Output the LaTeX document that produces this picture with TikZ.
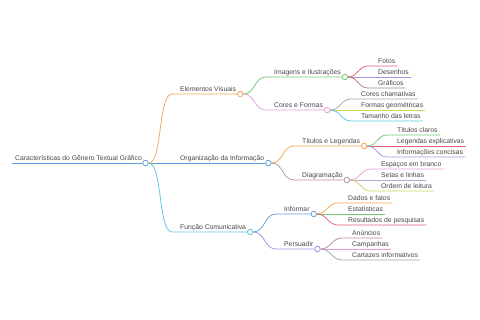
\documentclass[tikz,border=0pt]{standalone}
\usepackage{fontspec}
\setmainfont{Liberation Sans}
\usepackage{tikz}
\usetikzlibrary{positioning}
\definecolor{txt}{RGB}{70,70,70}
\definecolor{cblue}{RGB}{95,160,220}
\definecolor{corange}{RGB}{245,165,85}
\definecolor{ccyan}{RGB}{85,200,220}
\definecolor{cgreen}{RGB}{115,200,115}
\definecolor{cpink}{RGB}{230,160,212}
\definecolor{cmauve}{RGB}{180,145,165}
\definecolor{cpurple}{RGB}{170,145,220}
\definecolor{cred}{RGB}{228,100,120}
\definecolor{cbrown}{RGB}{170,130,120}
\definecolor{cgray}{RGB}{165,165,165}
\definecolor{cyell}{RGB}{208,212,85}
\definecolor{clilac}{RGB}{185,165,205}

\begin{document}
\begin{tikzpicture}[
  x=1pt, y=1pt,
  topic/.style={anchor=south west, inner xsep=0pt, inner ysep=0.8pt, text height=5pt, text depth=1.5pt,
    font=\fontsize{6.8}{7}\selectfont, text=txt},
  dot/.style={circle, draw=#1, fill=white, line width=0.8pt, minimum size=5.5pt, inner sep=0pt},
  br/.style={draw=#1, line width=0.75pt},
]
\useasboundingbox (0,0) rectangle (480,320);

% root
\node[topic] (root) at (15,157) {Características do Gênero Textual Gráfico};
\node[dot=cblue] (rootc) at ([xshift=3.5pt]root.south east) {};
\draw[br=cblue] ([xshift=-3pt]root.south west) -- (rootc.west);

% first level
\node[topic] (ev) at (180,226) {Elementos Visuais};
\node[dot=corange] (evc) at ([xshift=4pt]ev.south east) {};
\node[topic] (oi) at (180,157) {Organização da Informação};
\node[dot=cblue] (oic) at ([xshift=4pt]oi.south east) {};
\node[topic] (fc) at (180,88) {Função Comunicativa};
\node[dot=ccyan] (fcc) at ([xshift=4pt]fc.south east) {};
\draw[br=corange] (rootc.east) .. controls +(14,0) and +(-14,0) .. ([xshift=-8pt]ev.south west) -- (evc.west);
\draw[br=cblue] (rootc.east) -- (oic.west);
\draw[br=ccyan] (rootc.east) .. controls +(14,0) and +(-14,0) .. ([xshift=-8pt]fc.south west) -- (fcc.west);

% second level
\node[topic] (img) at (274,243) {Imagens e Ilustrações};
\node[dot=cgreen] (imgc) at ([xshift=4pt]img.south east) {};
\node[topic] (cf) at (274,210) {Cores e Formas};
\node[dot=cpink] (cfc) at ([xshift=4pt]cf.south east) {};
\draw[br=cgreen] (evc.east) .. controls +(12,0) and +(-12,0) .. ([xshift=-8pt]img.south west) -- (imgc.west);
\draw[br=cpink] (evc.east) .. controls +(12,0) and +(-12,0) .. ([xshift=-8pt]cf.south west) -- (cfc.west);

\node[topic] (tl) at (302,174) {Títulos e Legendas};
\node[dot=corange] (tlc) at ([xshift=4pt]tl.south east) {};
\node[topic] (dg) at (302,140) {Diagramação};
\node[dot=cmauve] (dgc) at ([xshift=4pt]dg.south east) {};
\draw[br=corange] (oic.east) .. controls +(12,0) and +(-12,0) .. ([xshift=-8pt]tl.south west) -- (tlc.west);
\draw[br=cmauve] (oic.east) .. controls +(12,0) and +(-12,0) .. ([xshift=-8pt]dg.south west) -- (dgc.west);

\node[topic] (inf) at (284,106) {Informar};
\node[dot=cblue] (infc) at ([xshift=4pt]inf.south east) {};
\node[topic] (per) at (284,71) {Persuadir};
\node[dot=cpurple] (perc) at ([xshift=4pt]per.south east) {};
\draw[br=cblue] (fcc.east) .. controls +(12,0) and +(-12,0) .. ([xshift=-8pt]inf.south west) -- (infc.west);
\draw[br=cpurple] (fcc.east) .. controls +(12,0) and +(-12,0) .. ([xshift=-8pt]per.south west) -- (perc.west);

% leaves
\node[topic] (fotos) at (378,254) {Fotos};
\node[topic] (desen) at (378,243) {Desenhos};
\node[topic] (graf) at (378,232) {Gráficos};
\draw[br=cred] (imgc.east) .. controls +(10,0) and +(-10,0) .. ([xshift=-10pt]fotos.south west) -- ([xshift=2pt]fotos.south east);
\draw[br=cpurple] (imgc.east) -- ([xshift=2pt]desen.south east);
\draw[br=cbrown] (imgc.east) .. controls +(10,0) and +(-10,0) .. ([xshift=-10pt]graf.south west) -- ([xshift=2pt]graf.south east);

\node[topic] (corch) at (361,221) {Cores chamativas};
\node[topic] (formg) at (361,210) {Formas geométricas};
\node[topic] (taml) at (361,199) {Tamanho das letras};
\draw[br=cgray] (cfc.east) .. controls +(10,0) and +(-10,0) .. ([xshift=-10pt]corch.south west) -- ([xshift=2pt]corch.south east);
\draw[br=cyell] (cfc.east) -- ([xshift=2pt]formg.south east);
\draw[br=ccyan] (cfc.east) .. controls +(10,0) and +(-10,0) .. ([xshift=-10pt]taml.south west) -- ([xshift=2pt]taml.south east);

\node[topic] (titc) at (397,185) {Títulos claros};
\node[topic] (lege) at (397,174) {Legendas explicativas};
\node[topic] (infcon) at (397,163) {Informações concisas};
\draw[br=cgreen] (tlc.east) .. controls +(10,0) and +(-10,0) .. ([xshift=-10pt]titc.south west) -- ([xshift=2pt]titc.south east);
\draw[br=cred] (tlc.east) -- ([xshift=2pt]lege.south east);
\draw[br=cpurple] (tlc.east) .. controls +(10,0) and +(-10,0) .. ([xshift=-10pt]infcon.south west) -- ([xshift=2pt]infcon.south east);

\node[topic] (espb) at (381,151) {Espaços em branco};
\node[topic] (setl) at (381,140) {Setas e linhas};
\node[topic] (ordl) at (381,129) {Ordem de leitura};
\draw[br=cpink] (dgc.east) .. controls +(10,0) and +(-10,0) .. ([xshift=-10pt]espb.south west) -- ([xshift=2pt]espb.south east);
\draw[br=clilac] (dgc.east) -- ([xshift=2pt]setl.south east);
\draw[br=cyell] (dgc.east) .. controls +(10,0) and +(-10,0) .. ([xshift=-10pt]ordl.south west) -- ([xshift=2pt]ordl.south east);

\node[topic] (dadf) at (348,117) {Dados e fatos};
\node[topic] (estat) at (348,106) {Estatísticas};
\node[topic] (resp) at (348,95) {Resultados de pesquisas};
\draw[br=corange] (infc.east) .. controls +(10,0) and +(-10,0) .. ([xshift=-10pt]dadf.south west) -- ([xshift=2pt]dadf.south east);
\draw[br=cgreen] (infc.east) -- ([xshift=2pt]estat.south east);
\draw[br=cred] (infc.east) .. controls +(10,0) and +(-10,0) .. ([xshift=-10pt]resp.south west) -- ([xshift=2pt]resp.south east);

\node[topic] (anun) at (352,82) {Anúncios};
\node[topic] (camp) at (352,71) {Campanhas};
\node[topic] (cart) at (352,60) {Cartazes informativos};
\draw[br=cmauve] (perc.east) .. controls +(10,0) and +(-10,0) .. ([xshift=-10pt]anun.south west) -- ([xshift=2pt]anun.south east);
\draw[br=cpink] (perc.east) -- ([xshift=2pt]camp.south east);
\draw[br=cgray] (perc.east) .. controls +(10,0) and +(-10,0) .. ([xshift=-10pt]cart.south west) -- ([xshift=2pt]cart.south east);
\end{tikzpicture}
\end{document}
